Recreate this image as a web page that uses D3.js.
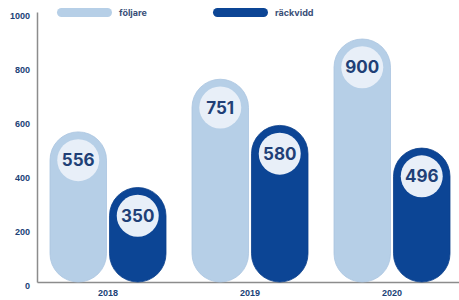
<!DOCTYPE html>
<html>
<head>
<meta charset="utf-8">
<script src="https://cdn.jsdelivr.net/npm/d3@7"></script>
<style>
  body { margin: 0; background: #fff; }
  svg { display: block; font-family: Inter, "Open Sans", sans-serif; }
</style>
</head>
<body>
<div id="container"></div>
<script>
/* DATA */
const years = ["2018", "2019", "2020"];
const series = ["följare", "räckvidd"];
const foljare = [556, 751, 900];
const rackvidd = [350, 580, 496];
const yTicks = [0, 200, 400, 600, 800, 1000];

/* CONSTANTS */
const width = 459, height = 300;
const colors = { "följare": "#b6cfe7", "räckvidd": "#0c4595" };
const textColor = "#203f76";

const svg = d3.select("#container").append("svg")
  .attr("width", width)
  .attr("height", height);

/* SCALES */
const yScale = d3.scaleLinear().domain([0, 1000]).range([282, 12]);
const xScale = d3.scaleBand().domain(years).range([37, 463]).padding(0);
const xSub = d3.scaleBand().domain(series).range([13, 129]).paddingInner(0.05);

// flat rows for bars
const rows = [];
years.forEach((y, i) => {
  rows.push({ year: y, key: "följare", value: foljare[i] });
  rows.push({ year: y, key: "räckvidd", value: rackvidd[i] });
});

/* AXES */
const yAxis = svg.append("g")
  .attr("transform", "translate(37,0)")
  .call(d3.axisLeft(yScale).tickValues(yTicks).tickFormat(d3.format("d"))
    .tickSize(0).tickSizeOuter(0).tickPadding(7));
yAxis.select(".domain").attr("stroke", "#8c8c8c").attr("stroke-width", 1.5);
yAxis.selectAll("text")
  .attr("dy", "0.75em")
  .attr("fill", textColor)
  .style("font-size", "9px")
  .style("font-weight", 700);

const xAxis = svg.append("g")
  .attr("transform", "translate(0,282)")
  .call(d3.axisBottom(xScale).tickSize(0).tickSizeOuter(0).tickPadding(8));
xAxis.select(".domain").attr("stroke", "#8c8c8c").attr("stroke-width", 1.5);
xAxis.selectAll("text")
  .attr("fill", textColor)
  .style("font-size", "9px")
  .style("font-weight", 700);

/* BARS */
const bw = xSub.bandwidth();
const bar = svg.append("g").selectAll("g")
  .data(rows)
  .join("g")
  .attr("transform", d => `translate(${xScale(d.year) + xSub(d.key)},0)`);

bar.append("rect")
  .attr("x", 0)
  .attr("y", d => yScale(d.value))
  .attr("width", bw)
  .attr("height", d => yScale(0) - yScale(d.value))
  .attr("rx", bw / 2)
  .attr("fill", d => colors[d.key])
  .attr("stroke", d => d.key === "följare" ? "#a9c4df" : "#0a3f8a")
  .attr("stroke-width", 0.8);

bar.append("circle")
  .attr("cx", bw / 2)
  .attr("cy", d => yScale(d.value) + bw / 2)
  .attr("r", 21)
  .attr("fill", "#e8eff8");

bar.append("text")
  .attr("x", bw / 2)
  .attr("y", d => yScale(d.value) + bw / 2)
  .attr("dy", "0.36em")
  .attr("text-anchor", "middle")
  .attr("fill", textColor)
  .style("font-size", "17px")
  .style("font-weight", 700)
  .text(d => d.value);

/* LEGEND */
const legendX = [57, 213];
const legend = svg.append("g").selectAll("g")
  .data(series)
  .join("g")
  .attr("transform", (d, i) => `translate(${legendX[i]},8)`);

legend.append("rect")
  .attr("width", 55)
  .attr("height", 9)
  .attr("rx", 4.5)
  .attr("fill", d => colors[d]);

legend.append("text")
  .attr("x", 62)
  .attr("y", 4.5)
  .attr("dy", "0.35em")
  .attr("fill", "#3a4f78")
  .style("font-size", "9px")
  .style("font-weight", 700)
  .text(d => d);
</script>
</body>
</html>
